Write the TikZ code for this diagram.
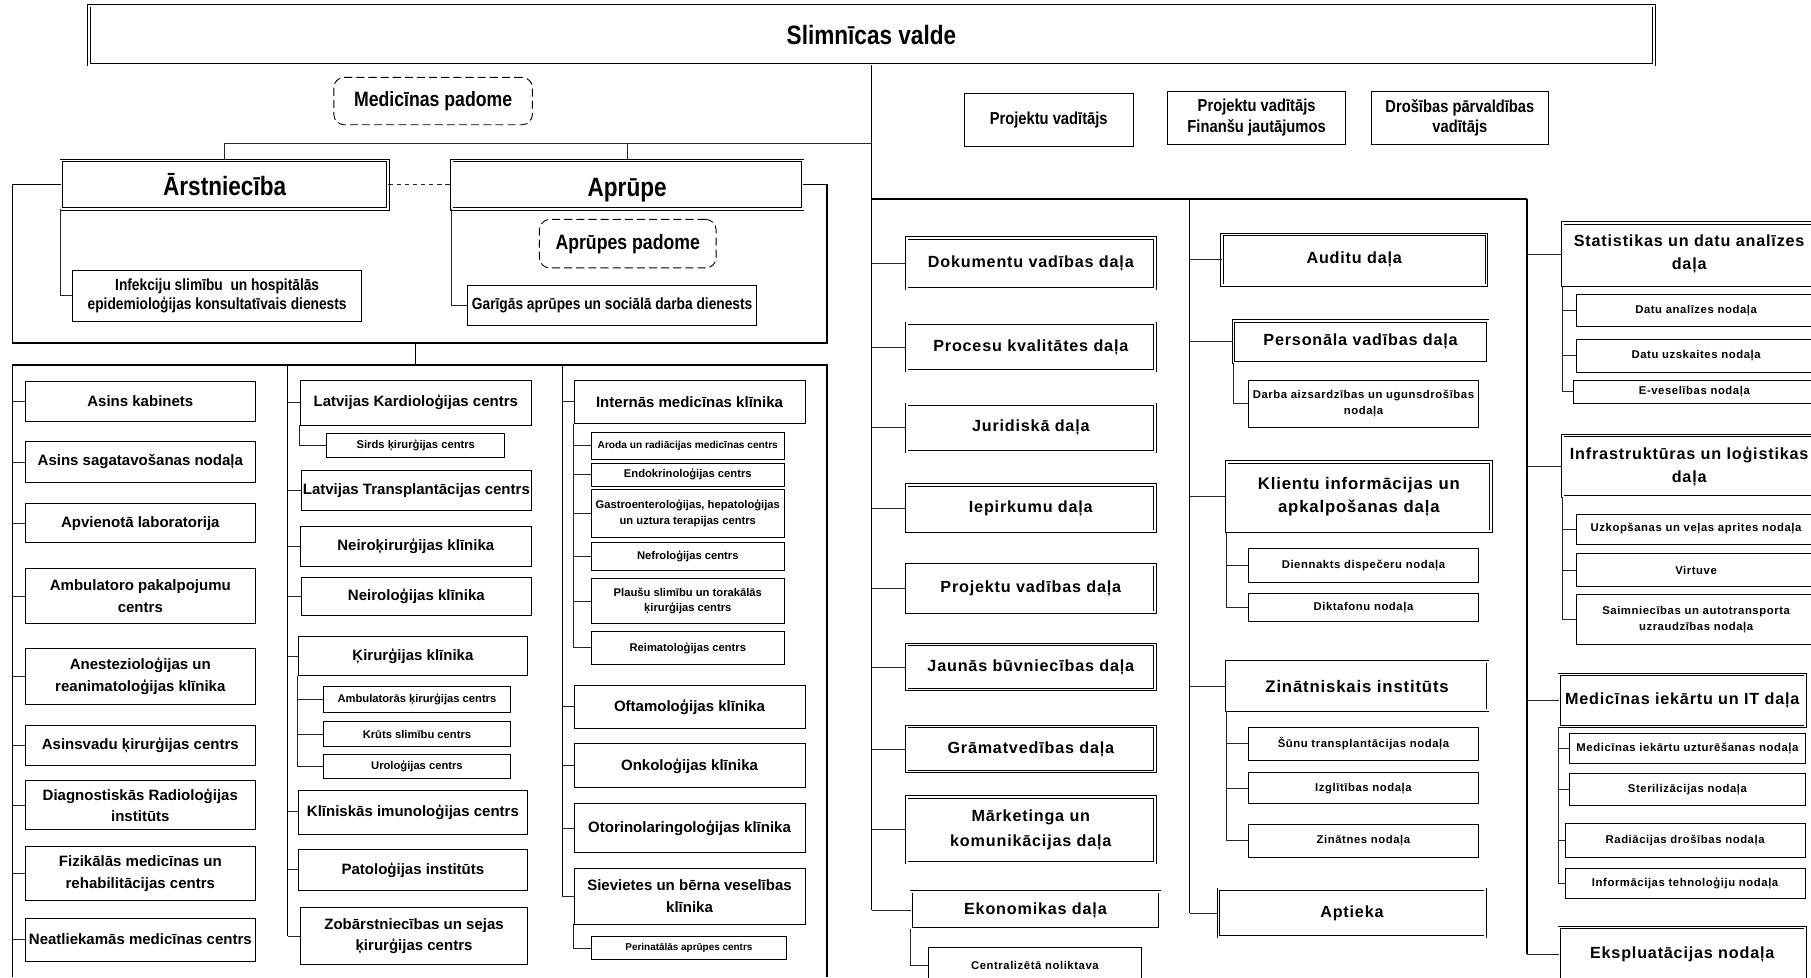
\documentclass[tikz,border=0pt]{standalone}
\usepackage{fontspec}
\setmainfont{Liberation Sans}
\newfontfamily\nar[FakeStretch=0.85]{Liberation Sans}
\newfontfamily\wid[LetterSpace=5]{Liberation Sans}
\tikzset{
 tb/.style={draw=black, line width=0.7pt, fill=white, align=center},
 db/.style={draw=black, double=white, double distance=1.6pt, line width=0.6pt, fill=white, align=center},
 rb/.style={draw=black, line width=0.8pt, rounded corners=9pt, dash pattern=on 7pt off 3.5pt, align=center},
 ns/.style 2 args={font=\nar\bfseries\fontsize{#1}{#2}\selectfont},
 fs/.style 2 args={font=\bfseries\fontsize{#1}{#2}\selectfont},
 ws/.style 2 args={font=\wid\bfseries\fontsize{#1}{#2}\selectfont},
 cn/.style={draw=black!85, line width=0.8pt},
 tk/.style={draw=black, line width=1.6pt},
 md/.style={draw=black, line width=1.1pt},
}
\newcommand\bx[7]{%
 \pgfmathsetmacro\bxcx{(#2+#4)/2}\pgfmathsetmacro\bxcy{(#3+#5)/2}%
 \pgfmathsetmacro\bxw{#4-#2}\pgfmathsetmacro\bxh{#5-#3}%
 \node[inner sep=0pt, minimum width=\bxw pt, minimum height=\bxh pt, #6] (#1) at (\bxcx,\bxcy) {#7};}
\begin{document}
\begin{tikzpicture}[x=1pt,y=-1pt]
\clip (0,0) rectangle (1568,846);
\fill[white] (0,0) rectangle (1568,846);
% ---------- top ----------
\bx{valde}{77}{5}{1432}{56}{db, ns={23}{27}}{Slimnīcas valde}
\bx{medp}{289}{67}{461}{108}{rb, ns={18}{22}}{Medicīnas padome}
\bx{arst}{53}{139}{336}{181}{db, ns={23}{27}}{Ārstniecība}
\bx{apr}{391}{139}{695}{181}{db, ns={23}{27}, text height=19.8pt, text depth=0pt}{Aprūpe}
\bx{aprp}{467}{190}{620}{232}{rb, ns={18}{22}}{Aprūpes padome}
\bx{infek}{63}{234}{313}{278}{tb, ns={14}{17}}{Infekciju slimību\ \ un hospitālās\\epidemioloģijas konsultatīvais dienests}
\bx{gar}{405}{247}{655}{282}{tb, ns={14}{17}}{Garīgās aprūpes un sociālā darba dienests}
\bx{pv1}{835}{81}{981}{127}{tb, ns={15}{18}}{Projektu vadītājs}
\bx{pv2}{1011}{79}{1165}{125}{tb, ns={15}{18}}{Projektu vadītājs\\Finanšu jautājumos}
\bx{pv3}{1187}{79}{1341}{125}{tb, ns={15}{18}}{Drošības pārvaldības\\vadītājs}
% ---------- column 1 ----------
\bx{a1}{22}{330}{221}{365}{tb, fs={13}{18}}{Asins kabinets}
\bx{a2}{22}{382}{221}{418}{tb, fs={13}{18}}{Asins sagatavošanas nodaļa}
\bx{a3}{22}{436}{221}{470}{tb, fs={13}{18}}{Apvienotā laboratorija}
\bx{a4}{22}{492}{221}{540}{tb, fs={13}{18.5}}{Ambulatoro pakalpojumu\\centrs}
\bx{a5}{22}{561}{221}{610}{tb, fs={13}{18.5}}{Anestezioloģijas un\\reanimatoloģijas klīnika}
\bx{a6}{22}{628}{221}{663}{tb, fs={13}{18}}{Asinsvadu ķirurģijas centrs}
\bx{a7}{22}{676}{221}{718}{tb, fs={13}{18.5}}{Diagnostiskās Radioloģijas\\institūts}
\bx{a8}{22}{733}{221}{780}{tb, fs={13}{18.5}}{Fizikālās medicīnas un\\rehabilitācijas centrs}
\bx{a9}{22}{795}{221}{832}{tb, fs={13}{18}}{Neatliekamās medicīnas centrs}
% ---------- column 2 ----------
\bx{b1}{260}{329}{460}{368}{tb, fs={13}{18}}{Latvijas Kardioloģijas centrs}
\bx{b1s}{283}{375}{437}{396}{tb, fs={9.7}{12}}{Sirds ķirurģijas centrs}
\bx{b2}{261}{407}{460}{442}{tb, fs={13}{18}}{Latvijas Transplantācijas centrs}
\bx{b3}{260}{456}{460}{490}{tb, fs={13}{18}}{Neiroķirurģijas klīnika}
\bx{b4}{261}{500}{460}{533}{tb, fs={13}{18}}{Neiroloģijas klīnika}
\bx{b5}{258}{551}{457}{585}{tb, fs={13}{18}}{Ķirurģijas klīnika}
\bx{b5a}{280}{594}{442}{617}{tb, fs={9.7}{12}}{Ambulatorās ķirurģijas centrs}
\bx{b5b}{280}{625}{442}{646}{tb, fs={9.7}{12}}{Krūts slimību centrs}
\bx{b5c}{280}{653}{442}{674}{tb, fs={9.7}{12}}{Uroloģijas centrs}
\bx{b6}{258}{684}{457}{722}{tb, fs={13}{18}}{Klīniskās imunoloģijas centrs}
\bx{b7}{258}{735}{457}{771}{tb, fs={13}{18}}{Patoloģijas institūts}
\bx{b8}{260}{786}{457}{835}{tb, fs={13}{18.5}}{Zobārstniecības un sejas\\ķirurģijas centrs}
% ---------- column 3 ----------
\bx{c1}{497}{329}{697}{367}{tb, fs={13}{18}}{Internās medicīnas klīnika}
\bx{c1a}{512}{374}{679}{398}{tb, fs={8.8}{11}}{Aroda un radiācijas medicīnas centrs}
\bx{c1b}{512}{401}{679}{421}{tb, fs={9.7}{12}}{Endokrinoloģijas centrs}
\bx{c1c}{512}{424}{679}{465}{tb, fs={9.7}{13.5}}{Gastroenteroloģijas, hepatoloģijas\\un uztura terapijas centrs}
\bx{c1d}{512}{470}{679}{494}{tb, fs={9.7}{12}}{Nefroloģijas centrs}
\bx{c1e}{512}{501}{679}{540}{tb, fs={9.7}{13.5}}{Plaušu slimību un torakālās\\ķirurģijas centrs}
\bx{c1f}{512}{547}{679}{575}{tb, fs={9.7}{12}}{Reimatoloģijas centrs}
\bx{c2}{497}{593}{697}{631}{tb, fs={13}{18}}{Oftamoloģijas klīnika}
\bx{c3}{497}{644}{697}{682}{tb, fs={13}{18}}{Onkoloģijas klīnika}
\bx{c4}{497}{696}{697}{738}{tb, fs={13}{18}}{Otorinolaringoloģijas klīnika}
\bx{c5}{497}{752}{697}{800}{tb, fs={13}{18.5}}{Sievietes un bērna veselības\\klīnika}
\bx{c5a}{512}{811}{681}{831}{tb, fs={8.6}{11}}{Perinatālās aprūpes centrs}
% ---------- right column 1 ----------
\bx{d1}{785}{206}{1000}{250}{db, ws={14}{19}}{Dokumentu vadības daļa}
\bx{d2}{785}{280}{1000}{321}{db, ws={14}{19}}{Procesu kvalitātes daļa}
\bx{d3}{785}{350}{1000}{391}{db, ws={14}{19}}{Juridiskā daļa}
\bx{d4}{785}{420}{1000}{460}{db, ws={14}{19}}{Iepirkumu daļa}
\bx{d5}{785}{489}{1000}{530}{db, ws={14}{19}}{Projektu vadības daļa}
\bx{d6}{785}{558}{1000}{597}{db, ws={14}{19}}{Jaunās būvniecības daļa}
\bx{d7}{785}{629}{1000}{668}{db, ws={14}{19}}{Grāmatvedības daļa}
\bx{d8}{785}{690}{1000}{747}{db, ws={14}{21}}{Mārketinga un\\komunikācijas daļa}
\bx{d9}{789}{772}{1004}{804}{db, ws={14}{19}}{Ekonomikas daļa}
\bx{d9a}{804}{820}{988}{851}{tb, ws={9.8}{12}}{Centralizētā noliktava}
% ---------- right column 2 ----------
\bx{e1}{1058}{203}{1287}{247}{db, ws={14}{19}}{Auditu daļa}
\bx{e2}{1068}{278}{1288}{314}{db, ws={14}{19}}{Personāla vadības daļa}
\bx{e2a}{1081}{329}{1280}{370}{tb, ws={9.8}{13.5}}{Darba aizsardzības un ugunsdrošības\\nodaļa}
\bx{e3}{1062}{400}{1291}{460}{db, ws={14.5}{20}}{Klientu informācijas un\\apkalpošanas daļa}
\bx{e3a}{1081}{475}{1280}{504}{tb, ws={9.8}{12}}{Diennakts dispečeru nodaļa}
\bx{e3b}{1081}{514}{1280}{538}{tb, ws={9.8}{12}}{Diktafonu nodaļa}
\bx{e4}{1062}{573}{1288}{615}{db, ws={14.5}{19}}{Zinātniskais institūts}
\bx{e4a}{1081}{630}{1280}{658}{tb, ws={9.8}{12}}{Šūnu transplantācijas nodaļa}
\bx{e4b}{1081}{669}{1280}{696}{tb, ws={9.8}{12}}{Izglītības nodaļa}
\bx{e4c}{1081}{714}{1280}{742}{tb, ws={9.8}{12}}{Zinātnes nodaļa}
\bx{e5}{1055}{770}{1286}{811}{db, ws={14}{19}}{Aptieka}
% ---------- right column 3 ----------
\bx{f1}{1353}{193}{1572}{247}{db, ws={14}{20}}{Statistikas un datu analīzes\\daļa}
\bx{f1a}{1365}{255}{1572}{283}{tb, ws={9.8}{12}}{Datu analīzes nodaļa}
\bx{f1b}{1365}{294}{1572}{322}{tb, ws={9.8}{12}}{Datu uzskaites nodaļa}
\bx{f1c}{1362}{329}{1572}{349}{tb, ws={9.8}{12}}{E-veselības nodaļa}
\bx{f2}{1353}{377}{1572}{430}{db, ws={14}{20}}{Infrastruktūras un loģistikas\\daļa}
\bx{f2a}{1365}{445}{1572}{471}{tb, ws={9.8}{12}}{Uzkopšanas un veļas aprites nodaļa}
\bx{f2b}{1365}{479}{1572}{508}{tb, ws={9.8}{12}}{Virtuve}
\bx{f2c}{1365}{515}{1572}{558}{tb, ws={9.8}{13.5}}{Saimniecības un autotransporta\\uzraudzības nodaļa}
\bx{f3}{1350}{584}{1563}{629}{db, ws={14}{19}}{Medicīnas iekārtu un IT daļa}
\bx{f3a}{1359}{635}{1563}{661}{tb, ws={9.8}{12}}{Medicīnas iekārtu uzturēšanas nodaļa}
\bx{f3b}{1359}{670}{1563}{697}{tb, ws={9.8}{12}}{Sterilizācijas nodaļa}
\bx{f3c}{1355}{713}{1563}{742}{tb, ws={9.8}{12}}{Radiācijas drošības nodaļa}
\bx{f3d}{1355}{752}{1563}{778}{tb, ws={9.8}{12}}{Informācijas tehnoloģiju nodaļa}
\bx{f4}{1350}{803}{1563}{849}{db, ws={14}{19}}{Ekspluatācijas nodaļa}
% ---------- coordinates ----------
\coordinate (H1) at (755,124);
\coordinate (E1) at (11,297);
\coordinate (E2) at (716,297);
\coordinate (M0) at (360,297);
\coordinate (M1) at (360,316);
\coordinate (L0) at (11,316);
\coordinate (R0) at (716,316);
\coordinate (Lb) at (11,846);
\coordinate (Rb) at (716,846);
\coordinate (T2) at (249,316);
\coordinate (T3) at (487,316);
\coordinate (RT) at (755,172);
\coordinate (RM) at (1030,172);
\coordinate (RE) at (1322,172);
% ---------- top connectors ----------
\draw[tk] (valde.south) -- (valde.south |- d9.west);
\draw[cn] (H1) -| (arst.north);
\draw[cn] (H1 -| apr.north) -- (apr.north);
\draw[cn, dash pattern=on 4pt off 3pt] (arst.east) -- (apr.west);
\draw[md] (arst.west) -| (E1) -- (E2) |- (apr.east);
\draw[cn] (arst.south west) |- (infek.west);
\draw[cn] (apr.south west) |- (gar.west);
% ---------- lower-left ----------
\draw[md] (M0) -- (M1);
\draw[md] (Lb) -- (L0) -- (R0) -- (Rb);
\draw[md] (T2) -- (T2 |- b8.west);
\draw[md] (T3) -- (T3 |- c5.west);
\foreach \n in {a1,a2,a3,a4,a5,a6,a7,a8,a9} \draw[cn] (\n.west) -- (\n.west -| L0);
\foreach \n in {b1,b2,b3,b4,b5,b6,b7,b8} \draw[cn] (\n.west) -- (\n.west -| T2);
\draw[cn] (b1.south west) |- (b1s.west);
\draw[cn] (b5.south west) |- (b5c.west);
\foreach \n in {b5a,b5b} \draw[cn] (\n.west) -- (\n.west -| b5.south west);
\foreach \n in {c1,c2,c3,c4,c5} \draw[cn] (\n.west) -- (\n.west -| T3);
\draw[cn] (c1.south west) |- (c1f.west);
\foreach \n in {c1a,c1b,c1c,c1d,c1e} \draw[cn] (\n.west) -- (\n.west -| c1.south west);
\draw[cn] (c5.south west) |- (c5a.west);
% ---------- right section ----------
\draw[tk] (RT) -- (RE);
\draw[md] (RM) -- (RM |- e5.west);
\draw[tk] (RE) -- (RE |- f4.west);
\foreach \n in {d1,d2,d3,d4,d5,d6,d7,d8,d9} \draw[cn] (\n.west) -- (\n.west -| RT);
\draw[cn] (d9.south west) |- (d9a.west);
\foreach \n in {e1,e2,e3,e4,e5} \draw[cn] (\n.west) -- (\n.west -| RM);
\draw[cn] (e2.south west) |- (e2a.west);
\draw[cn] (e3.south west) |- (e3b.west);
\draw[cn] (e3a.west) -- (e3a.west -| e3.south west);
\draw[cn] (e4.south west) |- (e4c.west);
\foreach \n in {e4a,e4b} \draw[cn] (\n.west) -- (\n.west -| e4.south west);
\foreach \n in {f1,f2,f3,f4} \draw[cn] (\n.west) -- (\n.west -| RE);
\draw[cn] (f1.south west) |- (f1c.west);
\foreach \n in {f1a,f1b} \draw[cn] (\n.west) -- (\n.west -| f1.south west);
\draw[cn] (f2.south west) |- (f2c.west);
\foreach \n in {f2a,f2b} \draw[cn] (\n.west) -- (\n.west -| f2.south west);
\draw[cn] (f3.south west) |- (f3d.west);
\foreach \n in {f3a,f3b,f3c} \draw[cn] (\n.west) -- (\n.west -| f3.south west);
\end{tikzpicture}
\end{document}
